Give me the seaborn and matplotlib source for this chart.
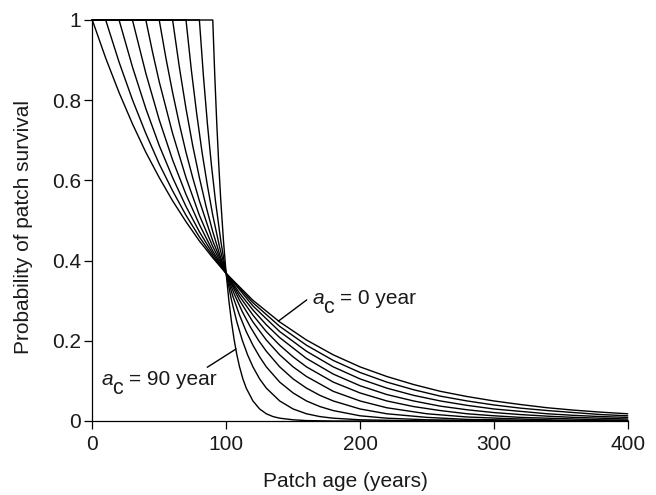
import matplotlib
matplotlib.use("Agg")
import matplotlib.pyplot as plt
import numpy as np
import pandas as pd
import seaborn as sns

# ---------------- data ----------------
critical_ages = [0, 10, 20, 30, 40, 50, 60, 70, 80, 90]

ac0_age = [0, 10, 20, 30, 40, 50, 60, 70, 80, 90, 100, 120, 140, 160, 180, 200,
           220, 240, 260, 280, 300, 320, 340, 360, 380, 400]
ac0_surv = [1.000, 0.905, 0.819, 0.741, 0.670, 0.607, 0.549, 0.497, 0.449, 0.407,
            0.368, 0.301, 0.247, 0.202, 0.165, 0.135, 0.111, 0.091, 0.074, 0.061,
            0.050, 0.041, 0.033, 0.027, 0.022, 0.018]

ac10_age = [0, 10, 20, 30, 40, 50, 60, 70, 80, 90, 100, 120, 140, 160, 180, 200,
            220, 240, 260, 280, 300, 320, 340, 360, 380, 400]
ac10_surv = [1.000, 1.000, 0.895, 0.801, 0.717, 0.641, 0.574, 0.513, 0.459, 0.411,
             0.368, 0.295, 0.236, 0.189, 0.151, 0.121, 0.097, 0.078, 0.062, 0.050,
             0.040, 0.032, 0.026, 0.021, 0.016, 0.013]

ac20_age = [0, 20, 30, 40, 50, 60, 70, 80, 90, 100, 120, 140, 160, 180, 200, 220,
            240, 260, 280, 300, 320, 340, 360, 380, 400]
ac20_surv = [1.000, 1.000, 0.883, 0.779, 0.687, 0.607, 0.535, 0.472, 0.417, 0.368,
             0.287, 0.223, 0.174, 0.135, 0.105, 0.082, 0.064, 0.050, 0.039, 0.030,
             0.024, 0.018, 0.014, 0.011, 0.009]

ac30_age = [0, 30, 40, 50, 60, 70, 80, 90, 100, 110, 120, 130, 140, 160, 180, 200,
            220, 240, 260, 280, 300, 320, 340, 360, 380, 400]
ac30_surv = [1.000, 1.000, 0.867, 0.751, 0.651, 0.565, 0.490, 0.424, 0.368, 0.319,
             0.277, 0.240, 0.208, 0.156, 0.117, 0.088, 0.066, 0.050, 0.037, 0.028,
             0.021, 0.016, 0.012, 0.009, 0.007, 0.005]

ac40_age = [0, 40, 45, 50, 60, 70, 80, 90, 100, 110, 120, 130, 140, 150, 160, 180,
            200, 220, 240, 260, 280, 300, 320, 340, 360, 380, 400]
ac40_surv = [1.000, 1.000, 0.920, 0.846, 0.717, 0.607, 0.513, 0.435, 0.368, 0.311,
             0.264, 0.223, 0.189, 0.160, 0.135, 0.097, 0.070, 0.050, 0.036, 0.026,
             0.018, 0.013, 0.009, 0.007, 0.005, 0.003, 0.002]

ac50_age = [0, 50, 55, 60, 65, 70, 75, 80, 90, 100, 110, 120, 130, 140, 150, 160,
            180, 200, 220, 250, 280, 310, 350, 400]
ac50_surv = [1.000, 1.000, 0.905, 0.819, 0.741, 0.670, 0.607, 0.549, 0.449, 0.368,
             0.301, 0.247, 0.202, 0.165, 0.135, 0.111, 0.074, 0.050, 0.033, 0.018,
             0.010, 0.006, 0.002, 0.001]

ac60_age = [0, 60, 65, 70, 75, 80, 85, 90, 95, 100, 106, 112, 118, 124, 130, 140,
            150, 160, 170, 180, 200, 220, 250, 280, 320, 400]
ac60_surv = [1.000, 1.000, 0.883, 0.779, 0.687, 0.607, 0.535, 0.472, 0.417, 0.368,
             0.317, 0.273, 0.235, 0.202, 0.174, 0.135, 0.105, 0.082, 0.064, 0.050,
             0.030, 0.018, 0.009, 0.004, 0.002, 0.000]

ac70_age = [0, 70, 74, 78, 82, 86, 90, 95, 100, 105, 110, 115, 120, 125, 130, 140,
            150, 160, 170, 180, 200, 220, 250, 300, 400]
ac70_surv = [1.000, 1.000, 0.875, 0.766, 0.670, 0.587, 0.513, 0.435, 0.368, 0.311,
             0.264, 0.223, 0.189, 0.160, 0.135, 0.097, 0.070, 0.050, 0.036, 0.026,
             0.013, 0.007, 0.003, 0.001, 0.000]

ac80_age = [0, 80, 83, 86, 89, 92, 96, 100, 104, 108, 112, 116, 120, 125, 130, 140,
            150, 160, 170, 180, 200, 250, 400]
ac80_surv = [1.000, 1.000, 0.861, 0.741, 0.638, 0.549, 0.449, 0.368, 0.301, 0.247,
             0.202, 0.165, 0.135, 0.105, 0.082, 0.050, 0.030, 0.018, 0.011, 0.007,
             0.003, 0.000, 0.000]

ac90_age = [0, 90, 91.5, 93, 94.5, 96, 98, 100, 102, 104, 106, 108, 110, 112.5, 115,
            120, 125, 130, 135, 140, 150, 160, 180, 400]
ac90_surv = [1.000, 1.000, 0.861, 0.741, 0.638, 0.549, 0.449, 0.368, 0.301, 0.247,
             0.202, 0.165, 0.135, 0.105, 0.082, 0.050, 0.030, 0.018, 0.011, 0.007,
             0.003, 0.001, 0.000, 0.000]

x_ticks = [0, 100, 200, 300, 400]
y_ticks = [0, 0.2, 0.4, 0.6, 0.8, 1.0]
y_tick_labels = ["0", "0.2", "0.4", "0.6", "0.8", "1"]

x_label = "Patch age (years)"
y_label = "Probability of patch survival"

# ---------------- build long table ----------------
all_ages = [ac0_age, ac10_age, ac20_age, ac30_age, ac40_age,
            ac50_age, ac60_age, ac70_age, ac80_age, ac90_age]
all_surv = [ac0_surv, ac10_surv, ac20_surv, ac30_surv, ac40_surv,
            ac50_surv, ac60_surv, ac70_surv, ac80_surv, ac90_surv]

frames = []
for ac, ages, surv in zip(critical_ages, all_ages, all_surv):
    frames.append(pd.DataFrame({"age": ages, "survival": surv,
                                "ac": f"ac{ac}"}))
df = pd.concat(frames, ignore_index=True)

# ---------------- style ----------------
sns.set_style("ticks")
plt.rcParams["font.family"] = ["Liberation Sans", "DejaVu Sans"]
plt.rcParams["font.size"] = 15
ink = "#1a1a1a"

fig = plt.figure(figsize=(6.56, 4.95), dpi=100)
ax = fig.add_axes([0.1407, 0.1495, 0.8162, 0.8101])

palette = {f"ac{ac}": "black" for ac in critical_ages}
sns.lineplot(data=df, x="age", y="survival", hue="ac", palette=palette,
             estimator=None, sort=False, legend=False, linewidth=1.0,
             clip_on=False, ax=ax)

ax.set_xlim(0, 400)
ax.set_ylim(0, 1)
ax.set_xticks(x_ticks)
ax.set_xticklabels([str(t) for t in x_ticks])
ax.set_yticks(y_ticks)
ax.set_yticklabels(y_tick_labels)
sns.despine(ax=ax)
for s in ["left", "bottom"]:
    ax.spines[s].set_linewidth(0.9)
    ax.spines[s].set_color("black")
ax.tick_params(direction="out", length=5.8, width=0.9, color="black",
               labelsize=15, labelcolor=ink)
ax.tick_params(axis="x", pad=4)
ax.tick_params(axis="y", pad=2.2)

ax.set_xlabel(x_label, fontsize=15, color=ink)
ax.set_ylabel(y_label, fontsize=15, color=ink)
ax.xaxis.set_label_coords(0.472, -0.127)
ax.yaxis.set_label_coords(-0.111, 0.485)

# ---------------- annotations ----------------
def ac_label(x, y, value):
    kw = dict(xycoords="data", textcoords="offset points", ha="left",
              va="baseline", color=ink)
    ax.annotate("a", xy=(x, y), xytext=(0, 0), fontstyle="italic",
                fontsize=15, **kw)
    ax.annotate("c", xy=(x, y), xytext=(7.6, -6.2), fontsize=15.5, **kw)
    ax.annotate(f"= {value} year", xy=(x, y), xytext=(19.6, 0),
                fontsize=15, **kw)

ax.annotate("", xy=(139, 0.249), xytext=(160.2, 0.302),
            arrowprops=dict(arrowstyle="-", lw=1.0, color="black",
                            shrinkA=0, shrinkB=0))
ac_label(164.5, 0.2918, 0)

ax.annotate("", xy=(107.4, 0.1796), xytext=(85.9, 0.134),
            arrowprops=dict(arrowstyle="-", lw=1.0, color="black",
                            shrinkA=0, shrinkB=0))
ac_label(7.25, 0.0898, 90)

fig.savefig("out.png", dpi=100)
